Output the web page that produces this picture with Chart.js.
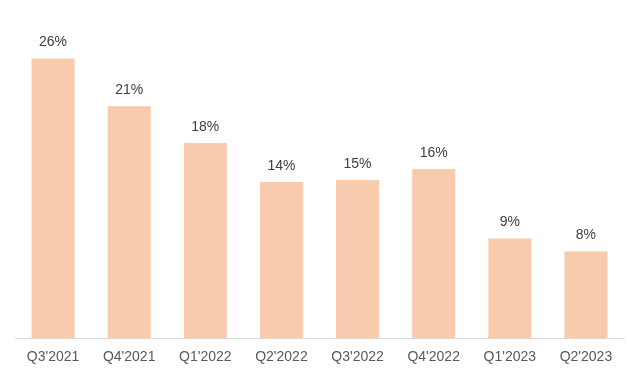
<!DOCTYPE html>
<html>
<head>
<meta charset="utf-8">
<script src="https://cdn.jsdelivr.net/npm/chart.js@4/dist/chart.umd.min.js"></script>
<style>
html,body{margin:0;padding:0;background:#fff;}
#wrap{width:629px;height:379px;}
</style>
</head>
<body>
<div id="wrap"><canvas id="c" width="629" height="379"></canvas></div>
<script>
const categories = ["Q3'2021","Q4'2021","Q1'2022","Q2'2022","Q3'2022","Q4'2022","Q1'2023","Q2'2023"];
const values = [25.8, 21.4, 18.0, 14.4, 14.6, 15.6, 9.2, 8.0];
const yMax = 30;

const labelPlugin = {
  id: 'barLabels',
  afterDatasetsDraw(chart) {
    const ctx = chart.ctx;
    const meta = chart.getDatasetMeta(0);
    ctx.save();
    ctx.font = '14px "Liberation Sans", Arial, sans-serif';
    ctx.fillStyle = '#404040';
    ctx.textAlign = 'center';
    ctx.textBaseline = 'middle';
    meta.data.forEach((bar, i) => {
      ctx.fillText(Math.round(values[i]) + '%', bar.x, bar.y - 16);
    });
    ctx.restore();
  }
};

new Chart(document.getElementById('c'), {
  type: 'bar',
  data: {
    labels: categories,
    datasets: [{
      data: values,
      backgroundColor: '#F8CBAD',
      borderWidth: 0,
      barPercentage: 0.565,
      categoryPercentage: 1.0
    }]
  },
  options: {
    responsive: false,
    animation: false,
    devicePixelRatio: 1,
    layout: { padding: { left: 15, right: 5, top: 13, bottom: 2 } },
    plugins: { legend: { display: false }, tooltip: { enabled: false } },
    scales: {
      y: { display: false, min: 0, max: yMax },
      x: {
        grid: { display: false, drawTicks: false },
        border: { display: true, color: '#D9D9D9', width: 1 },
        ticks: {
          color: '#595959',
          font: { family: '"Liberation Sans", Arial, sans-serif', size: 14 },
          padding: 11,
          maxRotation: 0
        }
      }
    }
  },
  plugins: [labelPlugin]
});
</script>
</body>
</html>
